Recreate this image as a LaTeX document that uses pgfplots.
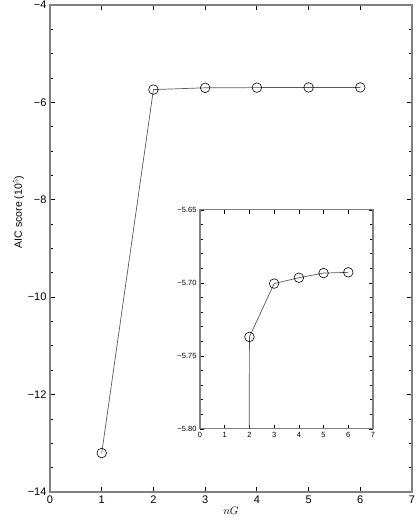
\documentclass[border=0pt]{standalone}
\usepackage{pgfplots}
\pgfplotsset{compat=1.18}
\usepackage{fontspec}
\setmainfont{Liberation Sans}
\definecolor{axgray}{RGB}{128,128,128}
\definecolor{lingray}{RGB}{90,90,90}

\pgfplotstableread{
x y
1 -13.2
2 -5.737
3 -5.7005
4 -5.6965
5 -5.6933
6 -5.6928
}\aicdata

\begin{document}
\begin{tikzpicture}[x=1pt,y=1pt]
\useasboundingbox (-50,-34) rectangle (365,492);
% main axis
\begin{axis}[
  at={(0pt,0pt)}, anchor=south west,
  scale only axis, width=362pt, height=487pt,
  xmin=0, xmax=7, ymin=-14, ymax=-4,
  xtick={0,...,7}, xticklabels={0,1,2,3,4,5,6,7},
  ytick={-14,-12,...,-4}, yticklabels={−14,−12,−10,−8,−6,−4},
  minor y tick num=3,
  tick align=inside,
  major tick length=5pt, minor tick length=3pt,
  axis line style={axgray,line width=1.3pt},
  every tick/.style={black,line width=0.8pt},
  tick label style={font=\fontsize{11}{13}\selectfont},
  xlabel={$nG$}, xlabel style={font=\fontsize{11}{13}\selectfont, yshift=3pt},
  ylabel={AIC score (10$^5$)},
  ylabel style={font=\fontsize{10.5}{12}\selectfont, at={(ticklabel cs:0.575)}, yshift=-3pt},
  clip=true,
]
\addplot[lingray, line width=0.7pt, mark=o, mark size=4.8pt,
  mark options={black, line width=0.6pt}] table[x=x,y=y] {\aicdata};
\end{axis}
% inset
\begin{axis}[
  at={(150pt,63pt)}, anchor=south west,
  scale only axis, width=173pt, height=219pt,
  axis background/.style={fill=white},
  xmin=0, xmax=7, ymin=-5.80, ymax=-5.65,
  xtick={0,...,7}, xticklabels={0,1,2,3,4,5,6,7},
  ytick={-5.80,-5.75,-5.70,-5.65}, yticklabels={−5.80,−5.75,−5.70,−5.65},
  minor y tick num=4,
  tick align=inside,
  major tick length=4pt, minor tick length=3pt,
  axis line style={axgray,line width=1.1pt},
  every tick/.style={black,line width=0.7pt},
  tick label style={font=\fontsize{7.5}{9}\selectfont},
  clip=true,
]
\addplot[lingray, line width=0.7pt, mark=o, mark size=4.8pt,
  mark options={black, line width=0.6pt}] table[x=x,y=y] {\aicdata};
\end{axis}
\end{tikzpicture}
\end{document}
